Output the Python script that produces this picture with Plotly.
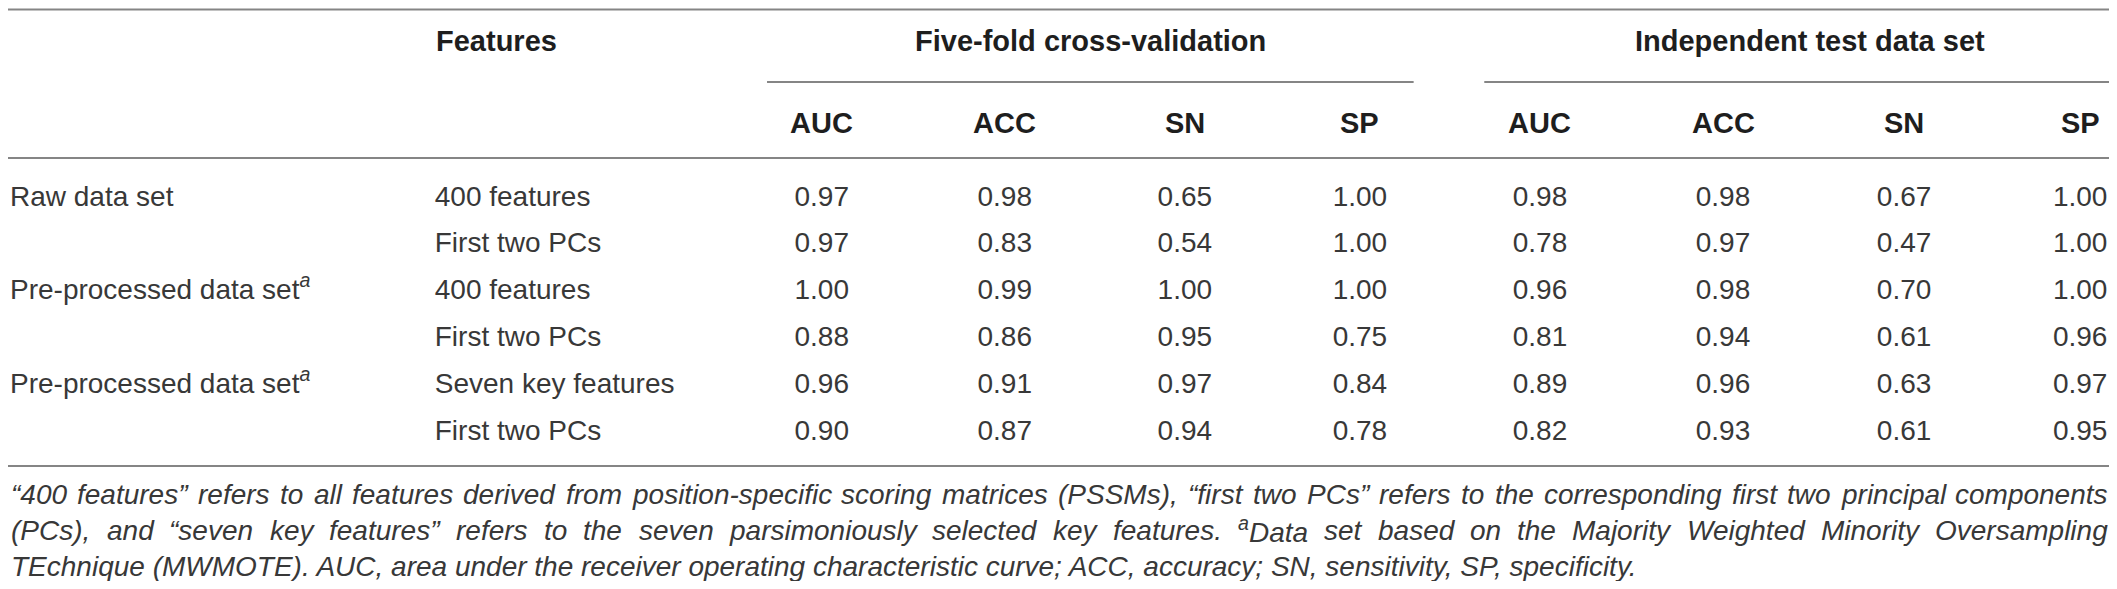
import plotly.graph_objects as go

# table content
row_groups = ["Raw data set", "", "Pre-processed data set<sup><i>a</i></sup>", "",
              "Pre-processed data set<sup><i>a</i></sup>", ""]
features = ["400 features", "First two PCs", "400 features", "First two PCs",
            "Seven key features", "First two PCs"]
metric_names = ["AUC", "ACC", "SN", "SP"]
group_names = ["Five-fold cross-validation", "Independent test data set"]

cv_auc = [0.97, 0.97, 1.00, 0.88, 0.96, 0.90]
cv_acc = [0.98, 0.83, 0.99, 0.86, 0.91, 0.87]
cv_sn = [0.65, 0.54, 1.00, 0.95, 0.97, 0.94]
cv_sp = [1.00, 1.00, 1.00, 0.75, 0.84, 0.78]
it_auc = [0.98, 0.78, 0.96, 0.81, 0.89, 0.82]
it_acc = [0.98, 0.97, 0.98, 0.94, 0.96, 0.93]
it_sn = [0.67, 0.47, 0.70, 0.61, 0.63, 0.61]
it_sp = [1.00, 1.00, 1.00, 0.96, 0.97, 0.95]

note_lines = [
    "“400 features” refers to all features derived from position-specific scoring matrices (PSSMs), "
    "“first two PCs” refers to the corresponding first two principal components",
    "(PCs), and “seven key features” refers to the seven parsimoniously selected key features. "
    "<sup>a</sup>Data set based on the Majority Weighted Minority Oversampling",
    "TEchnique (MWMOTE). AUC, area under the receiver operating characteristic curve; "
    "ACC, accuracy; SN, sensitivity, SP, specificity.",
]

# layout in page pixels; the page body has an 8px margin, so the figure is
# 16px smaller and the x range is stretched a touch to keep everything in view
W, H, PAD = 2117, 589, 8
X0, X1, Y0, Y1 = 3, 2115, PAD, H - PAD
FONT = "Liberation Sans, Arial, Helvetica, sans-serif"
TXT = "#383838"
LINE = "#858585"
col_x = [821, 1005, 1186, 1362, 1543, 1727, 1909, 2086]
row_y = [195 + 46.8 * i for i in range(6)]
TEXT_DY = 3.5  # scatter text sits a bit high compared with annotations
x_group, x_feat = 5, 432

fig = go.Figure()

body = dict(family=FONT, size=28, color=TXT)
grp = [(y, t) for y, t in zip(row_y, row_groups) if t]
fig.add_trace(go.Scatter(x=[x_group] * len(grp), y=[g[0] + TEXT_DY for g in grp],
                         text=[g[1] for g in grp], mode="text", textposition="middle right",
                         textfont=body, hoverinfo="skip", cliponaxis=False))
fig.add_trace(go.Scatter(x=[x_feat] * 6, y=[y + TEXT_DY for y in row_y], text=features,
                         mode="text", textposition="middle right", textfont=body,
                         hoverinfo="skip", cliponaxis=False))
for cx, vals in zip(col_x, [cv_auc, cv_acc, cv_sn, cv_sp, it_auc, it_acc, it_sn, it_sp]):
    fig.add_trace(go.Scatter(x=[cx] * 6, y=[y + TEXT_DY for y in row_y],
                             text=[f"{v:.2f}" for v in vals], mode="text",
                             textposition="middle center", textfont=body,
                             hoverinfo="skip", cliponaxis=False))

head = dict(family=FONT, size=29, color="#1e1e1e", weight="bold")
fig.add_annotation(x=x_feat, y=41, text="Features", xanchor="left", showarrow=False,
                   font=head, borderpad=0)
for name, xs in zip(group_names, [col_x[:4], col_x[4:]]):
    fig.add_annotation(x=(xs[0] + xs[-1]) / 2, y=41, text=name, showarrow=False, font=head)
for cx, name in zip(col_x, metric_names * 2):
    fig.add_annotation(x=cx, y=123, text=name, showarrow=False, font=head)

# rules
line = dict(color=LINE, width=2)
for y in [9.5, 158, 466]:
    fig.add_shape(type="line", x0=3, x1=2115, y0=y, y1=y, line=line)
fig.add_shape(type="line", x0=766, x1=1416, y0=82, y1=82, line=line)
fig.add_shape(type="line", x0=1487, x1=2115, y0=82, y1=82, line=line)

# footnote, justified by hand (Arial/Liberation widths, 1/1000 em)
widths = dict(zip("abcdefghijklmnopqrstuvwxyz",
                  [556, 556, 500, 556, 556, 278, 556, 556, 222, 222, 500, 222, 833,
                   556, 556, 556, 556, 333, 500, 278, 556, 500, 722, 500, 500, 500]))
widths.update(zip("ABCDEFGHIJKLMNOPQRSTUVWXYZ",
                  [667, 667, 722, 722, 667, 611, 778, 722, 278, 500, 667, 556, 833,
                   722, 778, 667, 778, 722, 667, 611, 722, 667, 944, 667, 667, 611]))
widths.update({c: 556 for c in "0123456789"})
widths.update({",": 278, ".": 278, ";": 278, "-": 333, "(": 333, ")": 333,
               "“": 333, "”": 333, " ": 278})

NOTE_SIZE = 28
xscale = (W - 2 * PAD) / (X1 - X0)


def word_w(word):
    w = 0
    if word.startswith("<sup>a</sup>"):
        w += 0.7 * 556
        word = word[len("<sup>a</sup>"):]
    w += sum(widths.get(c, 556) for c in word)
    return w * NOTE_SIZE / 1000 / xscale


note = dict(family=FONT, size=NOTE_SIZE, color=TXT, style="italic")
note_y = [494, 530, 566]
left, right = 5, 2113
for i, (txt, ny) in enumerate(zip(note_lines, note_y)):
    if i == len(note_lines) - 1:
        fig.add_annotation(x=left, y=ny, text=txt, xanchor="left", showarrow=False,
                           font=note, borderpad=0)
        continue
    words = txt.split(" ")
    ws = [word_w(w) for w in words]
    gap = (right - left - sum(ws)) / (len(words) - 1)
    x = left
    for w, ww in zip(words, ws):
        fig.add_annotation(x=x, y=ny, text=w, xanchor="left", showarrow=False,
                           font=note, borderpad=0)
        x += ww + gap

fig.update_xaxes(range=[X0, X1], visible=False, fixedrange=True)
fig.update_yaxes(range=[Y1, Y0], visible=False, fixedrange=True)
fig.update_layout(width=W - 2 * PAD, height=H - 2 * PAD, margin=dict(l=0, r=0, t=0, b=0),
                  plot_bgcolor="white", paper_bgcolor="white", showlegend=False)

fig.write_html("out.html")
